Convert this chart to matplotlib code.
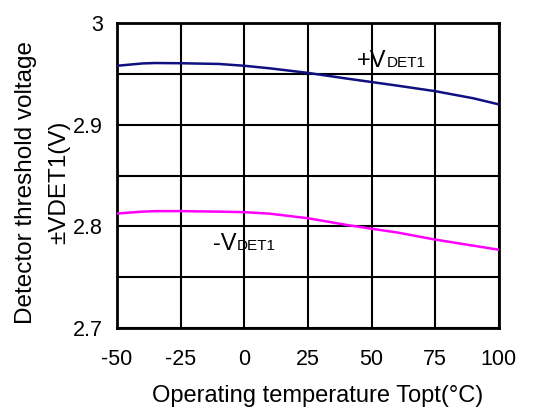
import matplotlib
matplotlib.use("Agg")
import matplotlib.pyplot as plt
from matplotlib import transforms

plt.rcParams['font.family'] = ['Liberation Sans', 'DejaVu Sans']
plt.rcParams['axes.unicode_minus'] = False

temp = [-50, -40, -35, -25, -10, 0, 10, 25, 40, 50, 60, 75, 90, 100]
vdet_plus = [2.958, 2.9603, 2.9607, 2.9605, 2.9598, 2.958, 2.9555, 2.951, 2.9455, 2.942, 2.9385, 2.933, 2.926, 2.920]
temp_m = [-50, -40, -35, -25, -10, 0, 10, 25, 40, 50, 60, 75, 90, 100]
vdet_minus = [2.8126, 2.8145, 2.815, 2.815, 2.8145, 2.814, 2.8125, 2.808, 2.8015, 2.7977, 2.794, 2.787, 2.781, 2.777]

xticks = [-50, -25, 0, 25, 50, 75, 100]
yticks = [2.7, 2.8, 2.9, 3.0]
ytick_labels = ['2.7', '2.8', '2.9', '3']

fig = plt.figure(figsize=(5.44, 4.16), dpi=100)
ax = fig.add_axes([0.2151, 0.2115, 0.702, 0.733])

ax.plot(temp, vdet_plus, color='#101080', lw=1.8, zorder=3)
ax.plot(temp_m, vdet_minus, color='#ff00ff', lw=1.8, zorder=3)

ax.set_xlim(-50, 100)
ax.set_ylim(2.7, 3.0)
ax.set_xticks(xticks)
ax.set_xticklabels([str(v) for v in xticks])
ax.set_yticks(yticks)
ax.set_yticklabels(ytick_labels)
ax.set_yticks([2.75, 2.85, 2.95], minor=True)
ax.grid(True, which='both', color='black', lw=1.5)
ax.tick_params(which='both', length=0, labelsize=15.5)
ax.tick_params(axis='x', pad=15)
ax.tick_params(axis='y', pad=10)
for s in ax.spines.values():
    s.set_linewidth(2)
    s.set_color('black')


def sub_label(x, y, main, sub):
    t = ax.text(x, y, main, fontsize=17, va='baseline', ha='left', zorder=4)
    fig.canvas.draw()
    bb = t.get_window_extent()
    off = transforms.offset_copy(ax.transData, fig=fig, x=bb.width * 72 / fig.dpi, y=0, units='points')
    ax.text(x, y, sub, fontsize=11, va='baseline', ha='left', transform=off, zorder=4)


sub_label(44.2, 2.9567, '+V', 'DET1')
sub_label(-12.3, 2.7767, '-V', 'DET1')

fig.text(0.584, 0.034, 'Operating temperature Topt(°C)', fontsize=17, ha='center', va='baseline')
fig.text(0.048, 0.5625, 'Detector threshold voltage', rotation=90, fontsize=17.5, ha='center', va='center')
fig.text(0.108, 0.5625, '±VDET1(V)', rotation=90, fontsize=17.5, ha='center', va='center')

fig.savefig('out.png', dpi=100)
